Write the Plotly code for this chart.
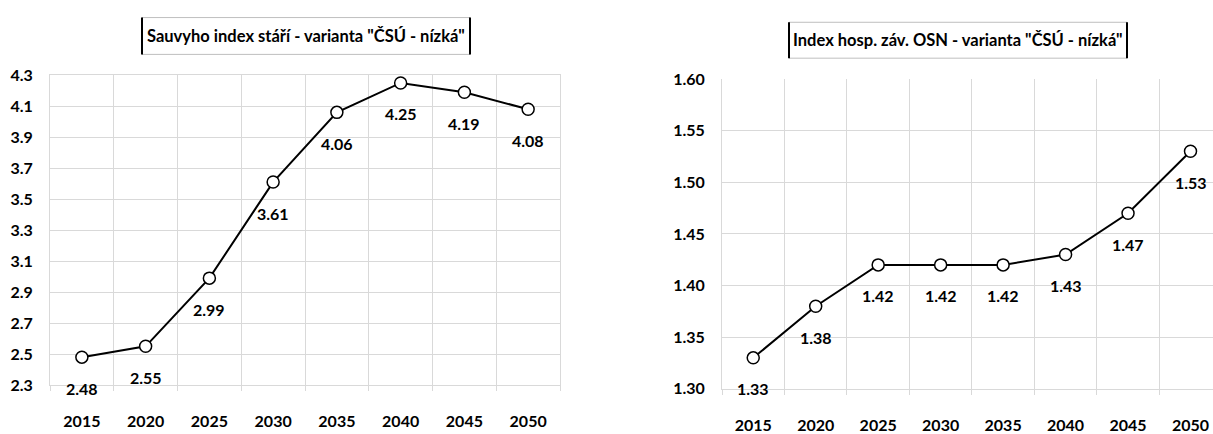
import plotly.graph_objects as go

# Data
years = ["2015", "2020", "2025", "2030", "2035", "2040", "2045", "2050"]
sauvy_index = [2.48, 2.55, 2.99, 3.61, 4.06, 4.25, 4.19, 4.08]
osn_index = [1.33, 1.38, 1.42, 1.42, 1.42, 1.43, 1.47, 1.53]

title_left = 'Sauvyho index stáří - varianta "ČSÚ - nízká"'
title_right = 'Index hosp. záv. OSN - varianta "ČSÚ - nízká"'

W, H = 1213, 434
FONT = "Lato"
GRID = "#d9d9d9"


def px(x):
    return x / W


def py(y):
    return 1 - y / H


fig = go.Figure()

line_style = dict(color="black", width=2)
marker_style = dict(symbol="circle", size=12, color="white",
                    line=dict(color="black", width=1.5))

fig.add_trace(go.Scatter(x=years, y=sauvy_index, mode="lines+markers",
                         line=line_style, marker=marker_style,
                         xaxis="x", yaxis="y", hoverinfo="x+y"))
fig.add_trace(go.Scatter(x=years, y=osn_index, mode="lines+markers",
                         line=line_style, marker=marker_style,
                         xaxis="x2", yaxis="y2", hoverinfo="x+y"))

tick_font = dict(family=FONT, size=16, color="black", weight="bold")

xcommon = dict(type="category", tickson="boundaries", showgrid=True,
               gridcolor=GRID, gridwidth=1, ticks="outside", ticklen=5,
               tickcolor=GRID, tickfont=tick_font, zeroline=False,
               showline=True, linecolor=GRID, linewidth=1,
               ticklabelstandoff=22, fixedrange=True)
ycommon = dict(showgrid=True, gridcolor=GRID, gridwidth=1, ticks="",
               tickfont=tick_font, zeroline=False, showline=True,
               linecolor=GRID, linewidth=1, ticklabelstandoff=13,
               fixedrange=True)

fig.update_layout(
    width=W, height=H,
    margin=dict(l=0, r=0, t=0, b=0),
    paper_bgcolor="white", plot_bgcolor="white",
    showlegend=False,
    xaxis=dict(xcommon, domain=[px(50), px(560)], range=[-0.5, 7.5],
               anchor="y", mirror=True),
    yaxis=dict(ycommon, domain=[py(397), py(69)], range=[2.3, 4.3],
               dtick=0.2, tick0=2.3, tickformat=".1f", anchor="x",
               mirror=True),
    xaxis2=dict(xcommon, domain=[px(722), 1.0], range=[-0.5, 7.36],
                anchor="y2"),
    yaxis2=dict(ycommon, domain=[py(401), py(73)], range=[1.30, 1.60],
                dtick=0.05, tick0=1.30, tickformat=".2f", anchor="x2"),
)

# Value labels under each point (category axes take serial positions)
label_font = dict(family=FONT, size=16, color="black", weight="bold")
annotations = []
for xa, ya, vals in (("x", "y", sauvy_index), ("x2", "y2", osn_index)):
    for i, v in enumerate(vals):
        annotations.append(dict(x=i, y=v, xref=xa, yref=ya,
                                text=f"{v:.2f}", showarrow=False,
                                xanchor="center", yanchor="middle",
                                yshift=-31, font=label_font))

# Framed chart titles
shapes = []
for (x0, x1, y0, y1), text in (((142, 470, 8, 47), title_left),
                               ((789, 1127, 13, 51), title_right)):
    annotations.append(dict(x=px((x0 + x1) / 2), y=py((y0 + y1) / 2),
                            xref="paper", yref="paper", text=text,
                            showarrow=False, xanchor="center",
                            yanchor="middle",
                            font=dict(family=FONT, size=16.5, color="black",
                                      weight="bold")))
    for a, b, c, d, col, w in ((x0, y0, x1, y0, "#bfbfbf", 1),
                               (x0, y1, x1, y1, "#bfbfbf", 1),
                               (x0, y0, x0, y1, "black", 2),
                               (x1, y0, x1, y1, "black", 2)):
        shapes.append(dict(type="line", xref="paper", yref="paper",
                           x0=px(a), y0=py(b), x1=px(c), y1=py(d),
                           line=dict(color=col, width=w)))

fig.update_layout(annotations=annotations, shapes=shapes)

fig.write_html("out.html", config={"displayModeBar": False})
